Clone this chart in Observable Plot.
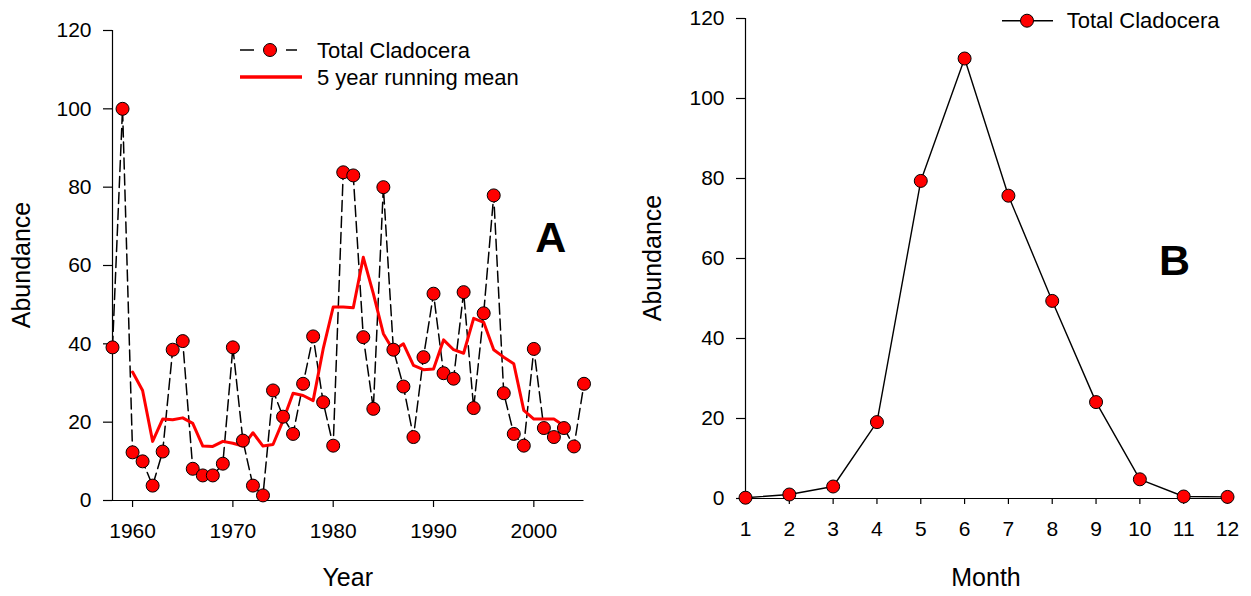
<!DOCTYPE html>
<html>
<head>
<meta charset="utf-8">
<script src="https://cdn.jsdelivr.net/npm/d3@7"></script>
<script src="https://cdn.jsdelivr.net/npm/@observablehq/plot@0.6"></script>
<style>
  html, body { margin: 0; padding: 0; background: #ffffff; }
  #wrap { position: relative; width: 1251px; height: 596px; overflow: hidden; font-family: "Liberation Sans", Arial, sans-serif; }
  #left, #right, #legend { position: absolute; top: 0; }
  #left { left: 0; }
  #right { left: 625px; }
  #legend { left: 0; pointer-events: none; }
</style>
</head>
<body>
<div id="wrap">
  <div id="left"></div>
  <div id="right"></div>
  <svg id="legend" width="1251" height="596"></svg>
</div>
<script>
// ---- Data ----
const years = [1958, 1959, 1960, 1961, 1962, 1963, 1964, 1965, 1966, 1967, 1968, 1969,
  1970, 1971, 1972, 1973, 1974, 1975, 1976, 1977, 1978, 1979,
  1980, 1981, 1982, 1983, 1984, 1985, 1986, 1987, 1988, 1989,
  1990, 1991, 1992, 1993, 1994, 1995, 1996, 1997, 1998, 1999,
  2000, 2001, 2002, 2003, 2004, 2005];
const totalCladocera = [39.1, 100, 12.3, 10.0, 3.8, 12.5, 38.5, 40.7, 8.1, 6.4, 6.4, 9.4,
  39.1, 15.3, 3.8, 1.3, 28.1, 21.4, 17.0, 29.8, 41.9, 25.1,
  14.0, 83.8, 83.0, 41.7, 23.4, 80.0, 38.5, 29.1, 16.2, 36.6,
  52.8, 32.5, 31.1, 53.2, 23.6, 47.8, 77.9, 27.4, 17.0, 14.0,
  38.7, 18.5, 16.2, 18.5, 13.8, 29.8];
const meanYears = [1960, 1961, 1962, 1963, 1964, 1965, 1966, 1967, 1968, 1969,
  1970, 1971, 1972, 1973, 1974, 1975, 1976, 1977, 1978, 1979,
  1980, 1981, 1982, 1983, 1984, 1985, 1986, 1987, 1988, 1989,
  1990, 1991, 1992, 1993, 1994, 1995, 1996, 1997, 1998, 1999,
  2000, 2001, 2002, 2003];
const runningMean = [32.8, 28.1, 15.1, 20.8, 20.6, 21.1, 19.7, 13.9, 13.8, 15.1,
  14.6, 13.9, 17.3, 13.9, 14.3, 20.4, 27.4, 26.8, 25.5, 38.7,
  49.4, 49.4, 49.2, 62.1, 52.8, 42.6, 38.3, 40.0, 34.5, 33.4,
  33.6, 41.0, 38.5, 37.6, 46.5, 45.5, 38.5, 36.6, 34.9, 23.0,
  20.8, 20.8, 20.8, 19.1];
const months = [1, 2, 3, 4, 5, 6, 7, 8, 9, 10, 11, 12];
const monthly = [0.2, 1.0, 3.0, 19.1, 79.4, 110, 75.7, 49.4, 24.1, 4.8, 0.5, 0.4];

const yearDomain = [1958, 2005];
const yearTicks = [1960, 1970, 1980, 1990, 2000];
const yTicks = [0, 20, 40, 60, 80, 100, 120];
const yDomain = [0, 120];
const monthDomain = [1, 12];

const seriesLabel = "Total Cladocera";
const meanLabel = "5 year running mean";
const yTitle = "Abundance";
const xTitleA = "Year";
const xTitleB = "Month";

// ---- Tables built from the arrays ----
const annual = years.map((y, i) => ({year: y, value: totalCladocera[i]}));
const meanData = meanYears.map((y, i) => ({year: y, value: runningMean[i]}));
const monthData = months.map((m, i) => ({month: m, value: monthly[i]}));

const FONT = '"Liberation Sans", Arial, sans-serif';
const RED = "#ff0000";

// ---- Panel A ----
const left = Plot.plot({
  width: 625, height: 596,
  marginLeft: 112, marginRight: 41.5, marginTop: 30, marginBottom: 96,
  style: {fontFamily: FONT, fontSize: "21px", color: "black", background: "transparent", overflow: "visible"},
  x: {domain: yearDomain, axis: null},
  y: {domain: yDomain, axis: null},
  marks: [
    Plot.axisX({ticks: yearTicks, tickSize: 7, tickPadding: 16, tickFormat: d => String(d), label: null, strokeWidth: 1.2}),
    Plot.axisY({ticks: yTicks, tickSize: 9, tickPadding: 12, label: null, strokeWidth: 1.2}),
    Plot.ruleX([yearDomain[0]], {stroke: "black", strokeWidth: 1.2}),
    Plot.ruleY([0], {stroke: "black", strokeWidth: 1.2}),
    Plot.line(annual, {x: "year", y: "value", stroke: "black", strokeWidth: 1.5, strokeDasharray: "11,5"}),
    Plot.line(meanData, {x: "year", y: "value", stroke: RED, strokeWidth: 3}),
    Plot.dot(annual, {x: "year", y: "value", r: 6.5, fill: RED, stroke: "black", strokeWidth: 1})
  ]
});
document.getElementById("left").appendChild(left);

// ---- Panel B ----
const right = Plot.plot({
  width: 626, height: 596,
  marginLeft: 120, marginRight: 24, marginTop: 18, marginBottom: 98,
  style: {fontFamily: FONT, fontSize: "21px", color: "black", background: "transparent", overflow: "visible"},
  x: {domain: monthDomain, axis: null},
  y: {domain: yDomain, axis: null},
  marks: [
    Plot.axisX({ticks: months, tickSize: 6, tickPadding: 17, tickFormat: d => String(d), label: null, strokeWidth: 1.2}),
    Plot.axisY({ticks: yTicks, tickSize: 9, tickPadding: 12, label: null, strokeWidth: 1.2}),
    Plot.ruleX([monthDomain[0]], {stroke: "black", strokeWidth: 1.2}),
    Plot.ruleY([0], {stroke: "black", strokeWidth: 1.2}),
    Plot.line(monthData, {x: "month", y: "value", stroke: "black", strokeWidth: 1.4}),
    Plot.dot(monthData, {x: "month", y: "value", r: 6.5, fill: RED, stroke: "black", strokeWidth: 1})
  ]
});
document.getElementById("right").appendChild(right);

// ---- Titles, panel letters and legends (overlay) ----
const lg = d3.select("#legend").style("font-family", FONT);
function txt(x, y, s, size, opts = {}) {
  const t = lg.append("text").attr("x", x).attr("y", y).attr("font-size", size).attr("fill", "black").text(s);
  if (opts.anchor) t.attr("text-anchor", opts.anchor);
  if (opts.bold) t.attr("font-weight", "bold");
  if (opts.rotate) t.attr("transform", `rotate(${opts.rotate},${x},${y})`);
  return t;
}
// axis titles
txt(347.75, 586, xTitleA, 25, {anchor: "middle"});
txt(986, 586, xTitleB, 25, {anchor: "middle"});
txt(30, 265, yTitle, 25, {anchor: "middle", rotate: -90});
txt(661, 258, yTitle, 25, {anchor: "middle", rotate: -90});
// panel letters
txt(550.7, 251.7, "A", 43, {anchor: "middle", bold: true});
txt(1174.6, 275, "B", 43, {anchor: "middle", bold: true});
// Panel A legend
lg.append("line").attr("x1", 240).attr("x2", 254).attr("y1", 50).attr("y2", 50).attr("stroke", "black").attr("stroke-width", 1.5);
lg.append("line").attr("x1", 286).attr("x2", 297).attr("y1", 50).attr("y2", 50).attr("stroke", "black").attr("stroke-width", 1.5);
lg.append("circle").attr("cx", 270).attr("cy", 50).attr("r", 6.5).attr("fill", RED).attr("stroke", "black").attr("stroke-width", 1);
txt(317, 57.5, seriesLabel, 22);
lg.append("line").attr("x1", 240).attr("x2", 302).attr("y1", 77).attr("y2", 77).attr("stroke", RED).attr("stroke-width", 3.5);
txt(317, 85, meanLabel, 22);
// Panel B legend
lg.append("line").attr("x1", 1002).attr("x2", 1053).attr("y1", 20.7).attr("y2", 20.7).attr("stroke", "black").attr("stroke-width", 1.4);
lg.append("circle").attr("cx", 1027).attr("cy", 20.7).attr("r", 6.5).attr("fill", RED).attr("stroke", "black").attr("stroke-width", 1);
txt(1066.7, 28.3, seriesLabel, 22);
</script>
</body>
</html>
